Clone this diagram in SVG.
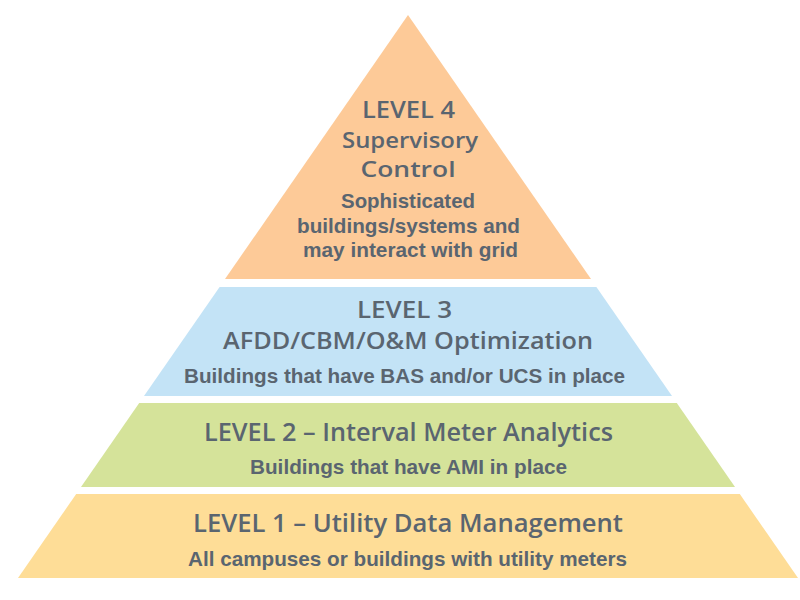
<svg xmlns="http://www.w3.org/2000/svg" width="800" height="600" viewBox="0 0 800 600">
<style>
.t{fill:#5A6570;text-anchor:middle}
.h{font-family:"Open Sans","Liberation Sans",Arial,sans-serif;font-size:26px;font-weight:600}
.m{font-size:24px}
.n{font-size:22px}
.s{font-family:"Liberation Sans",Arial,sans-serif;font-size:21px;font-weight:bold}
</style>
<rect width="800" height="600" fill="#FFFFFF"/>
<g id="level4">
<polygon points="408,15 591,279 225,279" fill="#FDCA98"/>
<text class="t h m" x="408.5" y="118" textLength="93" lengthAdjust="spacingAndGlyphs">LEVEL 4</text>
<text class="t h n" x="410" y="148" textLength="136" lengthAdjust="spacingAndGlyphs">Supervisory</text>
<text class="t h n" x="408" y="177" textLength="95" lengthAdjust="spacingAndGlyphs">Control</text>
<text class="t s" x="408" y="208" textLength="134" lengthAdjust="spacingAndGlyphs">Sophisticated</text>
<text class="t s" x="408.5" y="233" textLength="223" lengthAdjust="spacingAndGlyphs">buildings/systems and</text>
<text class="t s" x="410.5" y="257" textLength="215" lengthAdjust="spacingAndGlyphs">may interact with grid</text>
</g>
<g id="level3">
<polygon points="219.6,287 596.4,287 672,396 144,396" fill="#C3E3F6"/>
<text class="t h m" x="404.5" y="318" textLength="95" lengthAdjust="spacingAndGlyphs">LEVEL 3</text>
<text class="t h m" x="408" y="349" textLength="370" lengthAdjust="spacingAndGlyphs">AFDD/CBM/O&amp;M Optimization</text>
<text class="t s" x="404.5" y="383" textLength="441" lengthAdjust="spacingAndGlyphs">Buildings that have BAS and/or UCS in place</text>
</g>
<g id="level2">
<polygon points="139.2,403 676.8,403 735,487 81,487" fill="#D5E39A"/>
<text class="t h" x="408.5" y="441" textLength="409" lengthAdjust="spacingAndGlyphs">LEVEL 2 – Interval Meter Analytics</text>
<text class="t s" x="408.5" y="474" textLength="317" lengthAdjust="spacingAndGlyphs">Buildings that have AMI in place</text>
</g>
<g id="level1">
<polygon points="76.2,494 739.8,494 798,578 18,578" fill="#FEDD97"/>
<text class="t h" x="408" y="532" textLength="430" lengthAdjust="spacingAndGlyphs">LEVEL 1 – Utility Data Management</text>
<text class="t s" x="407.5" y="566" textLength="439" lengthAdjust="spacingAndGlyphs">All campuses or buildings with utility meters</text>
</g>
<g id="connectors"/>
</svg>
